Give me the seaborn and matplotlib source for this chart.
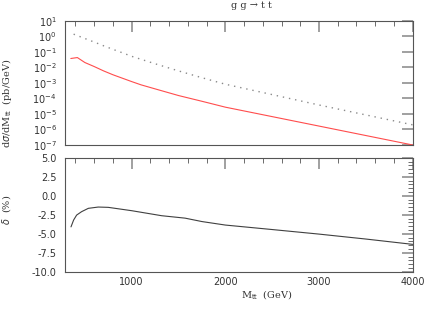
import numpy as np
import pandas as pd
import seaborn as sns
import matplotlib.pyplot as plt
from matplotlib.ticker import MultipleLocator, FixedLocator, NullLocator, LogFormatterSciNotation

# values
mass_red = [350, 420, 500, 600, 700, 800, 900, 1000, 1100, 1250, 1500, 1750, 2000, 2500, 3000, 3500, 4000]
logxs_red = [-1.42, -1.36, -1.68, -1.94, -2.22, -2.47, -2.69, -2.91, -3.12, -3.38, -3.81, -4.18, -4.56, -5.17, -5.78, -6.39, -7.00]

mass_dot = [380, 500, 600, 700, 800, 900, 1000, 1250, 1500, 1750, 2000, 2500, 3000, 3500, 4000]
logxs_dot = [0.15, -0.13, -0.36, -0.60, -0.83, -1.05, -1.28, -1.76, -2.22, -2.66, -3.08, -3.75, -4.42, -5.06, -5.70]

mass_delta = [352, 380, 412, 465, 537, 643, 750, 1000, 1320, 1570, 1750, 2000, 2500, 3000, 3500, 4000]
delta = [-4.1, -3.2, -2.55, -2.1, -1.66, -1.49, -1.53, -1.97, -2.63, -2.95, -3.40, -3.86, -4.45, -5.05, -5.70, -6.40]

decades = [1e-7, 1e-6, 1e-5, 1e-4, 1e-3, 1e-2, 1e-1, 1e0, 1e1]

red = pd.DataFrame({"M": mass_red, "xs": 10 ** np.array(logxs_red)})
dot = pd.DataFrame({"M": mass_dot, "xs": 10 ** np.array(logxs_dot)})
dd = pd.DataFrame({"M": mass_delta, "delta": delta})

sns.set_style("white")
plt.rcParams["font.family"] = ["DejaVu Sans"]

fig = plt.figure(figsize=(4.24, 3.10), dpi=100)
ax1 = fig.add_axes([0.1533, 0.5323, 0.82, 0.40])
ax2 = fig.add_axes([0.1533, 0.1235, 0.82, 0.3677])

sns.lineplot(data=dot, x="M", y="xs", ax=ax1, color="#8a8a8a", lw=1.0, linestyle=(0, (1, 3.5)))
sns.lineplot(data=red, x="M", y="xs", ax=ax1, color="#ff4d4d", lw=0.8)
ax1.set_yscale("log")
ax1.set_ylim(1e-7, 1e1)
ax1.yaxis.set_major_locator(FixedLocator(decades))
ax1.yaxis.set_major_formatter(LogFormatterSciNotation())
ax1.yaxis.set_minor_locator(NullLocator())

sns.lineplot(data=dd, x="M", y="delta", ax=ax2, color="#404040", lw=0.8)
ax2.set_ylim(-10, 5)
ax2.yaxis.set_major_locator(MultipleLocator(2.5))
ax2.yaxis.set_minor_locator(MultipleLocator(0.5))
ax2.yaxis.set_major_formatter(plt.FormatStrFormatter("%.1f"))

for ax in (ax1, ax2):
    ax.set_xlim(288, 4000)
    ax.xaxis.set_major_locator(MultipleLocator(1000))
    ax.xaxis.set_minor_locator(MultipleLocator(200))
    ax.set_xlabel("")
    ax.set_ylabel("")
    ax.tick_params(which="both", direction="in", top=True, right=True, labelsize=7, labelcolor="#333333")
    ax.tick_params(which="major", length=8, width=1.3, color="#999999", pad=6)
    ax.tick_params(which="minor", length=3.5, width=0.6, color="#555555")
    for s in ax.spines.values():
        s.set_color("#555555")
        s.set_linewidth(0.8)

ax1.tick_params(axis="x", which="both", labelbottom=False)
ax2.tick_params(axis="x", pad=3.5)

fig.text(251 / 424, 1 - 6 / 310, "g g \u2192 t t", ha="center", va="center", fontsize=7, family="DejaVu Serif", color="#333333")
fig.text(7 / 424, 1 - 103 / 310, r"d$\sigma$/dM$_{\rm tt}$  (pb/GeV)", rotation=90, ha="center", va="center", fontsize=7, family="DejaVu Serif", color="#333333")
fig.text(7 / 424, 1 - 210 / 310, r"$\delta$  (%)", rotation=90, ha="center", va="center", fontsize=7, family="DejaVu Serif", color="#333333")
fig.text(267 / 424, 1 - 295 / 310, r"M$_{\rm tt}$  (GeV)", ha="center", va="center", fontsize=7, family="DejaVu Serif", color="#333333")

fig.savefig("out.png", dpi=100)
